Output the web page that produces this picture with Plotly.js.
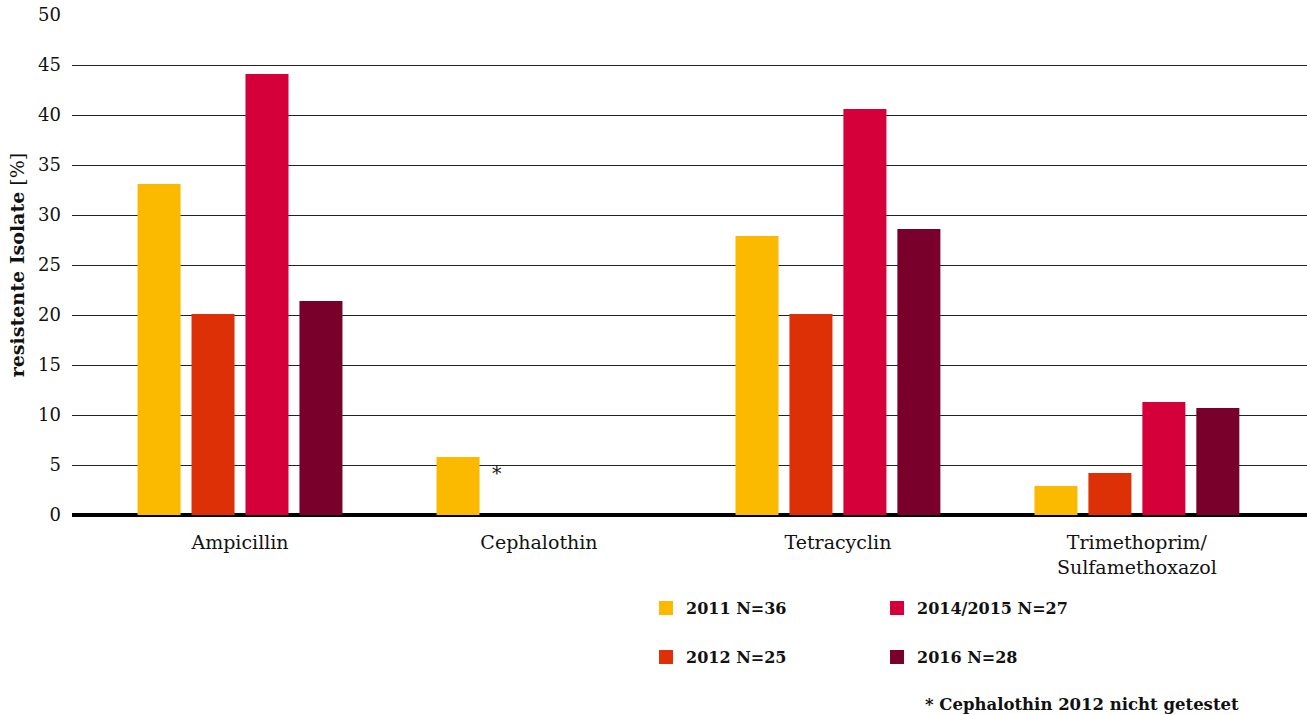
<!DOCTYPE html>
<html>
<head>
<meta charset="utf-8">
<script src="https://cdn.plot.ly/plotly-3.0.1.min.js"></script>
<style>html,body{margin:0;padding:0;background:#fff;}#chart{width:1307px;height:715px;}</style>
</head>
<body>
<div id="chart"></div>
<script>
const categories = ['Ampicillin', 'Cephalothin', 'Tetracyclin', 'Trimethoprim/<br>Sulfamethoxazol'];
const seriesNames = ['2011 N=36', '2012 N=25', '2014/2015 N=27', '2016 N=28'];
const values2011 = [33.0, 5.7, 27.8, 2.8];
const values2012 = [20.0, null, 20.0, 4.1];
const values2014 = [44.0, 0, 40.5, 11.2];
const values2016 = [21.3, 0, 28.5, 10.6];
const yTicks = [0, 5, 10, 15, 20, 25, 30, 35, 40, 45, 50];
const colors = ['#FBBA00', '#DE3006', '#D5003A', '#78002A'];

const FONT = 'DejaVu Serif, serif';
const allValues = [values2011, values2012, values2014, values2016];
const legendIds = ['legend', 'legend2', 'legend', 'legend2'];

const traces = allValues.map((vals, i) => ({
  type: 'bar',
  name: '<b>' + seriesNames[i] + '</b>',
  x: categories,
  y: vals,
  marker: {
    color: colors[i],
    line: {color: colors[i], width: vals.map(v => (v ? 2 : 0))}
  },
  legend: legendIds[i],
  hoverinfo: 'x+y'
}));

const layout = {
  width: 1307,
  height: 715,
  margin: {l: 72, r: 0, t: 15, b: 200},
  paper_bgcolor: '#fff',
  plot_bgcolor: '#fff',
  font: {family: FONT, size: 17, color: '#111'},
  barmode: 'group',
  bargap: 0.278,
  bargroupgap: 0.24,
  showlegend: true,
  xaxis: {
    type: 'category',
    range: [-0.562, 3.569],
    showgrid: false,
    zeroline: false,
    showline: false,
    ticks: '',
    ticklabelstandoff: 14,
    tickfont: {family: FONT, size: 19, color: '#111'}
  },
  yaxis: {
    range: [0, 50],
    tickvals: yTicks,
    ticktext: yTicks.map(String),
    showgrid: true,
    gridcolor: '#222',
    gridwidth: 1,
    zeroline: true,
    zerolinecolor: '#000',
    zerolinewidth: 4,
    ticks: '',
    ticklabelstandoff: 10,
    tickfont: {family: FONT, size: 18, color: '#111'},
    title: {
      text: '<b>resistente Isolate</b> [%]',
      font: {family: FONT, size: 19, color: '#111'},
      standoff: 8
    }
  },
  legend: {
    orientation: 'h',
    x: 0.4648, xanchor: 'left',
    y: -0.186, yanchor: 'middle',
    entrywidth: 186,
    traceorder: 'normal',
    font: {family: FONT, size: 16, color: '#111'},
    bgcolor: 'rgba(0,0,0,0)'
  },
  legend2: {
    orientation: 'h',
    x: 0.4648, xanchor: 'left',
    y: -0.284, yanchor: 'middle',
    entrywidth: 186,
    traceorder: 'normal',
    font: {family: FONT, size: 16, color: '#111'},
    bgcolor: 'rgba(0,0,0,0)'
  },
  annotations: [
    {
      text: '*', x: categories[1], y: 4.2, xref: 'x', yref: 'y',
      xshift: -42, showarrow: false,
      font: {family: FONT, size: 19, color: '#111'}
    },
    {
      text: '<b>* Cephalothin 2012 nicht getestet</b>',
      x: 0.689, xref: 'paper', xanchor: 'left',
      y: -0.378, yref: 'paper', yanchor: 'middle',
      showarrow: false,
      font: {family: FONT, size: 16.5, color: '#111'}
    }
  ]
};

Plotly.newPlot('chart', traces, layout, {displayModeBar: false, responsive: false});
</script>
</body>
</html>
